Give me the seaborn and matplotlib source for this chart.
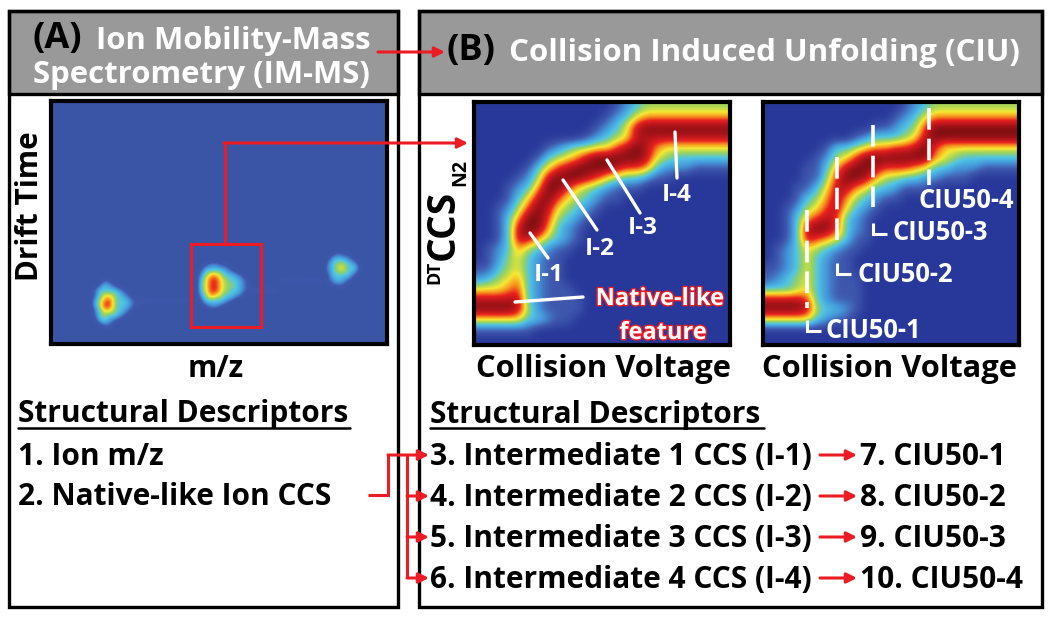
import numpy as np
import pandas as pd
import seaborn as sns
import matplotlib.pyplot as plt
import matplotlib.patheffects as pe
from matplotlib.colors import LinearSegmentedColormap
from matplotlib.patches import Rectangle

W, H = 1050, 618
RED = "#ed1c24"
GRAY = "#999999"

# intensity levels, 0 = background, 9 = darkest red
CIU_LEFT = [
    [0,0,0,0,0,0,0,0,0,0,0,0,0,0,1,2,3,4,4,4,4,4,4,4,4,4],
    [0,0,0,0,0,0,0,0,0,0,0,0,0,1,2,3,5,6,6,6,6,6,6,6,6,6],
    [0,0,0,0,0,0,0,0,0,0,0,0,1,2,3,5,8,9,9,9,9,9,9,9,9,9],
    [0,0,0,0,0,0,0,0,0,0,0,1,2,3,4,5,8,8,8,8,8,8,8,8,8,8],
    [0,0,0,0,0,0,0,1,2,3,4,4,5,5,7,8,9,8,6,5,5,5,5,5,5,5],
    [0,0,0,0,0,0,1,3,4,5,6,8,9,9,9,9,9,8,5,4,3,3,3,3,3,3],
    [0,0,0,0,0,1,3,5,7,8,9,9,9,9,8,7,7,6,3,2,2,2,1,1,1,1],
    [0,0,0,0,1,2,4,8,9,9,9,8,7,5,4,3,3,2,1,1,0,0,0,0,0,0],
    [0,0,0,1,2,3,6,9,9,7,5,4,3,2,1,1,1,0,0,0,0,0,0,0,0,0],
    [0,0,0,1,3,5,8,9,7,5,4,3,2,1,1,0,0,0,0,0,0,0,0,0,0,0],
    [0,0,1,2,4,7,9,8,5,4,3,2,1,0,0,0,0,0,0,0,0,0,0,0,0,0],
    [0,0,1,3,6,9,9,7,4,3,2,1,0,0,0,0,0,0,0,0,0,0,0,0,0,0],
    [0,0,1,3,8,9,9,6,3,2,1,0,0,0,0,0,0,0,0,0,0,0,0,0,0,0],
    [0,0,1,3,8,8,6,4,3,2,1,0,0,0,0,0,0,0,0,0,0,0,0,0,0,0],
    [0,1,2,3,6,4,3,2,1,1,0,0,0,0,0,0,0,0,0,0,0,0,0,0,0,0],
    [0,1,2,4,5,3,2,1,1,0,0,0,0,0,0,0,0,0,0,0,0,0,0,0,0,0],
    [1,1,3,4,5,3,2,1,1,0,0,0,0,0,0,0,0,0,0,0,0,0,0,0,0,0],
    [2,3,4,5,6,3,2,1,1,0,0,0,0,0,0,0,0,0,0,0,0,0,0,0,0,0],
    [5,5,5,6,7,3,2,1,1,1,0,0,0,0,0,0,0,0,0,0,0,0,0,0,0,0],
    [8,8,8,8,8,3,2,1,1,1,1,0,0,0,0,0,0,0,0,0,0,0,0,0,0,0],
    [9,9,9,9,8,4,2,1,1,1,1,0,0,0,0,0,0,0,0,0,0,0,0,0,0,0],
    [5,5,5,5,5,3,3,2,1,1,0,0,0,0,0,0,0,0,0,0,0,0,0,0,0,0],
    [1,1,1,1,1,1,0,0,0,0,0,0,0,0,0,0,0,0,0,0,0,0,0,0,0,0],
    [0,0,0,0,0,0,0,0,0,0,0,0,0,0,0,0,0,0,0,0,0,0,0,0,0,0],
]

CIU_RIGHT = [
    [0,0,0,0,0,0,0,0,0,0,0,0,0,0,1,2,3,4,4,4,4,4,4,4,4,4],
    [0,0,0,0,0,0,0,0,0,0,0,0,0,1,2,3,5,6,6,6,6,6,6,6,6,6],
    [0,0,0,0,0,0,0,0,0,0,0,1,1,2,3,4,7,9,9,9,9,9,9,9,9,9],
    [0,0,0,0,0,0,0,0,0,1,2,3,3,3,4,5,8,9,9,9,9,9,9,9,9,9],
    [0,0,0,0,0,0,1,3,3,4,5,6,6,7,7,8,9,7,5,5,5,5,5,5,5,5],
    [0,0,0,0,0,1,2,4,5,7,9,9,9,9,9,9,9,6,5,4,3,3,3,3,3,3],
    [0,0,0,0,1,1,3,6,8,9,9,8,7,7,7,6,5,3,3,2,2,2,1,1,1,1],
    [0,0,0,0,1,1,4,7,9,9,8,6,4,4,3,3,2,2,1,1,1,0,0,0,0,0],
    [0,0,0,1,1,3,5,8,8,6,5,3,3,2,1,1,1,0,0,0,0,0,0,0,0,0],
    [0,0,0,1,3,4,6,8,6,4,3,2,1,1,0,0,0,0,0,0,0,0,0,0,0,0],
    [0,0,1,2,4,5,7,8,5,3,2,1,0,0,0,0,0,0,0,0,0,0,0,0,0,0],
    [0,0,1,3,6,7,8,7,3,2,1,0,0,0,0,0,0,0,0,0,0,0,0,0,0,0],
    [0,0,1,3,8,9,9,7,3,2,1,0,0,0,0,0,0,0,0,0,0,0,0,0,0,0],
    [0,0,1,3,8,7,6,5,3,1,1,0,0,0,0,0,0,0,0,0,0,0,0,0,0,0],
    [0,1,2,3,5,4,3,2,1,1,0,0,0,0,0,0,0,0,0,0,0,0,0,0,0,0],
    [0,1,2,3,5,3,2,1,1,0,0,0,0,0,0,0,0,0,0,0,0,0,0,0,0,0],
    [1,1,2,3,5,3,2,1,1,0,0,0,0,0,0,0,0,0,0,0,0,0,0,0,0,0],
    [1,2,3,4,5,3,2,1,1,1,0,0,0,0,0,0,0,0,0,0,0,0,0,0,0,0],
    [3,3,3,4,5,3,2,1,1,1,0,0,0,0,0,0,0,0,0,0,0,0,0,0,0,0],
    [8,8,8,8,7,3,2,1,1,1,0,0,0,0,0,0,0,0,0,0,0,0,0,0,0,0],
    [9,9,9,9,8,4,3,3,2,1,0,0,0,0,0,0,0,0,0,0,0,0,0,0,0,0],
    [5,5,5,5,5,3,2,1,1,0,0,0,0,0,0,0,0,0,0,0,0,0,0,0,0,0],
    [0,0,0,0,0,0,0,0,0,0,0,0,0,0,0,0,0,0,0,0,0,0,0,0,0,0],
    [0,0,0,0,0,0,0,0,0,0,0,0,0,0,0,0,0,0,0,0,0,0,0,0,0,0],
]

PEAK_LEFT = [
    [0,0,1,1,0,0,0,0,0],
    [0,1,3,2,1,0,0,0,0],
    [1,3,3,3,3,2,1,0,0],
    [1,3,5,5,4,3,2,1,0],
    [2,4,6,7,4,3,3,2,1],
    [2,4,7,7,4,3,3,2,1],
    [1,3,5,5,4,3,2,1,0],
    [1,3,4,3,3,2,1,0,0],
    [0,2,3,2,1,0,0,0,0],
    [0,0,1,1,0,0,0,0,0],
]
PEAK_MID = [
    [0,1,2,2,1,1,0,0,0,0],
    [1,3,3,3,3,2,1,0,0,0],
    [2,4,6,6,4,3,3,2,1,0],
    [3,5,7,7,5,4,3,3,2,1],
    [3,5,7,7,5,4,4,3,2,1],
    [3,5,7,7,5,4,3,3,2,1],
    [2,4,6,5,4,3,3,2,1,0],
    [1,3,3,3,3,2,1,0,0,0],
    [0,1,2,2,1,0,0,0,0,0],
]
PEAK_RIGHT = [
    [0,1,2,1,1,0,0],
    [1,3,3,3,2,1,0],
    [2,3,4.6,4.6,3,3,1],
    [2,3,4.6,4.6,3,3,1],
    [1,3,3,3,3,1,0],
    [1,2,3,2,1,0,0],
    [0,1,1,1,0,0,0],
]
STREAK_LEFT = [1.2, 1.1, 1.0, 0.9, 0.9, 0.8, 0.8, 0.9, 1.0, 1.0]
STREAK_MID = [1.2, 1.1, 1.0, 1.0, 0.9, 0.9]
STREAK_RIGHT = [0.9, 0.9, 1.0, 1.0, 1.0, 1.1, 1.1, 1.2]

HEADER_A = ["Ion Mobility-Mass", "Spectrometry (IM-MS)"]
HEADER_B = "Collision Induced Unfolding (CIU)"
DESCRIPTORS_A = ["1. Ion m/z", "2. Native-like Ion CCS"]
DESCRIPTORS_B = ["3. Intermediate 1 CCS (I-1)", "4. Intermediate 2 CCS (I-2)",
                 "5. Intermediate 3 CCS (I-3)", "6. Intermediate 4 CCS (I-4)"]
DESCRIPTORS_C = ["7. CIU50-1", "8. CIU50-2", "9. CIU50-3", "10. CIU50-4"]


def make_cmap(bg):
    colors = [bg, "#3f58ae", "#4596d8", "#4fc4e4", "#9ad35f", "#f6e833",
              "#f6921e", "#e8211f", "#b5151b", "#7d0f12"]
    return LinearSegmentedColormap.from_list("ciu", colors, N=256)


def pixel_axes(fig, x0, y0, x1, y1):
    return fig.add_axes([x0 / W, 1 - y1 / H, (x1 - x0) / W, (y1 - y0) / H])


def draw_heatmap(fig, box, values, bg):
    ax = pixel_axes(fig, *box)
    cmap = make_cmap(bg)
    df = pd.DataFrame(values)
    sns.heatmap(df, ax=ax, cmap=cmap, vmin=0, vmax=9, cbar=False,
                xticklabels=False, yticklabels=False)
    # the source image is smooth, show the same cells without the blocks
    ax.collections[0].set_visible(False)
    ax.imshow(df.values, cmap=cmap, vmin=0, vmax=9, interpolation="bicubic",
              extent=(0, df.shape[1], df.shape[0], 0), aspect="auto")
    ax.set_xlabel("")
    ax.set_ylabel("")
    for s in ax.spines.values():
        s.set_visible(True)
        s.set_linewidth(3)
        s.set_color("black")
    return ax


sns.set_theme(style="white")
plt.rcParams["font.family"] = ["Open Sans", "DejaVu Sans"]
plt.rcParams["font.weight"] = "bold"

fig = plt.figure(figsize=(W / 100, H / 100), dpi=100, facecolor="white")

# panel frames behind everything
back = fig.add_axes([0, 0, 1, 1])
back.set_xlim(0, W)
back.set_ylim(H, 0)
back.axis("off")
for x0, x1 in [(9, 398), (419, 1042)]:
    back.add_patch(Rectangle((x0, 11), x1 - x0, 83, fc=GRAY, ec="black", lw=2.4))
    back.add_patch(Rectangle((x0, 11), x1 - x0, 596, fc="none", ec="black", lw=2.4))

# heatmaps
ms = np.zeros((48, 66))
ms[35:45, 8:17] = PEAK_LEFT
ms[32:41, 29:39] = PEAK_MID
ms[30:37, 54:61] = PEAK_RIGHT
ms[39, 17:27] = STREAK_LEFT
ms[37, 39:45] = STREAK_MID
ms[35, 45:53] = STREAK_RIGHT

draw_heatmap(fig, (51, 101, 387, 344), ms, "#3a55a5")
draw_heatmap(fig, (474, 102, 730, 345), CIU_LEFT, "#28389a")
draw_heatmap(fig, (763, 102, 1019, 345), CIU_RIGHT, "#28389a")

# text and arrows go on a clear axes on top, in pixel coordinates
top = fig.add_axes([0, 0, 1, 1])
top.set_xlim(0, W)
top.set_ylim(H, 0)
top.axis("off")
top.patch.set_alpha(0)


def label(x, y, s, size=21.5, color="black", ha="left", **kw):
    return top.text(x, y, s, fontsize=size, color=color, ha=ha, va="center",
                    fontweight="bold", **kw)


def red_line(xs, ys, lw=2.2):
    top.plot(xs, ys, color=RED, lw=lw, solid_capstyle="butt", solid_joinstyle="miter")


def red_arrow(x0, y0, x1, y1):
    top.annotate("", xy=(x1, y1), xytext=(x0, y0),
                 arrowprops=dict(arrowstyle="-|>,head_width=0.25,head_length=0.5",
                                 color=RED, lw=2.2, shrinkA=0, shrinkB=0))


# headers
label(33, 39, "(A)", size=26)
label(96, 41, HEADER_A[0], size=22.4, color="white")
label(33, 75, HEADER_A[1], size=22.4, color="white")
label(446, 51, "(B)", size=26)
label(509, 53, HEADER_B, size=22.5, color="white")

# axis titles
label(30, 206, "Drift Time", size=21.3, ha="center", rotation=90, rotation_mode="anchor")
label(216, 369, "m/z", size=21.4, ha="center")
label(603, 369, "Collision Voltage", size=22.2, ha="center")
label(890, 369, "Collision Voltage", size=22.2, ha="center")
label(434, 272, "DT", size=13, ha="center", rotation=90)
label(443, 225, "CCS", size=28, ha="center", rotation=90)
label(460, 172, "N2", size=14, ha="center", rotation=90)

# callouts on the left CIU map
for xs, ys in [((530, 548), (233, 258)), ((563, 597), (180, 230)),
               ((607, 640), (160, 213)), ((675, 677), (132, 178)),
               ((515, 583), (302, 297))]:
    top.plot(xs, ys, color="white", lw=2.4)
for x, y, s in [(549, 275, "I-1"), (600, 249, "I-2"), (643, 228, "I-3"), (677, 195, "I-4")]:
    label(x, y, s, size=17.6, color="white", ha="center")
for x, y, s in [(660, 299, "Native-like"), (663, 333, "feature")]:
    t = label(x, y, s, size=17, color="white", ha="center")
    t.set_path_effects([pe.withStroke(linewidth=2, foreground=RED)])

# CIU50 markers on the right map
for x, y0, y1 in [(807, 210, 308), (837, 157, 247), (873, 125, 207), (929, 108, 185)]:
    top.plot([x, x], [y0, y1], color="white", lw=2.6, ls=(0, (6, 2.5)))
for x, y in [(807, 331), (837, 274), (873, 234)]:
    top.plot([x, x, x + 14], [y - 11, y, y], color="white", lw=2.2,
             solid_joinstyle="miter", solid_capstyle="butt")
for x, y, s in [(873, 331, "CIU50-1"), (905, 274, "CIU50-2"),
                (940, 233, "CIU50-3"), (966, 200, "CIU50-4")]:
    label(x, y, s, size=18.4, color="white", ha="center")

# descriptor lists
label(18, 414, "Structural Descriptors")
top.plot([18, 350], [428, 428], color="black", lw=1.8)
label(18, 457, DESCRIPTORS_A[0])
label(18, 497, DESCRIPTORS_A[1])
label(430, 415, "Structural Descriptors")
top.plot([430, 764], [428, 428], color="black", lw=1.8)

row_y = [455, 496, 537, 578]
for y, left, right in zip(row_y, DESCRIPTORS_B, DESCRIPTORS_C):
    label(430, y + 2, left)
    label(860, y + 2, right)
    red_arrow(820, y, 857, y)

# red connectors
red_arrow(378, 52, 445, 52)
top.add_patch(Rectangle((191, 244), 70, 83, fc="none", ec=RED, lw=2.2))
red_line([225, 225], [244, 143])
red_arrow(224, 143, 468, 143)
red_line([368, 388, 388], [495, 495, 455])
red_line([407, 407], [455, 578])
for y in row_y:
    red_arrow(388 if y == row_y[0] else 407, y, 429, y)

fig.savefig("out.png", dpi=100)
